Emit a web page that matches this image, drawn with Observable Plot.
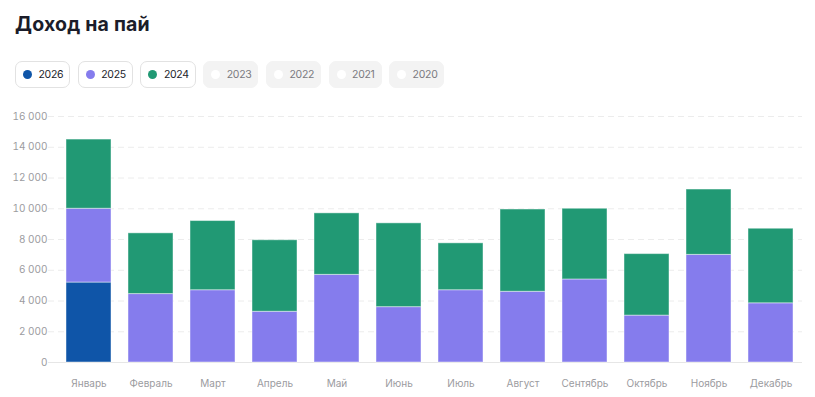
<!DOCTYPE html>
<html>
<head>
<meta charset="utf-8">
<script src="https://cdn.jsdelivr.net/npm/d3@7"></script>
<script src="https://cdn.jsdelivr.net/npm/@observablehq/plot@0.6"></script>
<style>
  html, body { margin: 0; padding: 0; background: #fff; width: 815px; height: 397px; overflow: hidden; font-family: Inter, "Noto Sans", sans-serif; }
  #title { position: absolute; left: 15px; top: 12px; font-size: 19.5px; font-weight: 700; color: #1b1d2a; letter-spacing: 0.2px; }
  #legend { position: absolute; left: 15px; top: 61px; display: flex; gap: 7.5px; }
  .pill { box-sizing: border-box; height: 27px; display: flex; align-items: center; padding: 0 6px 0 7px; border-radius: 7px; font-size: 10.5px; letter-spacing: -0.3px; }
  .pill.on { border: 1px solid #e2e2e2; background: #fff; color: #1b1d2a; }
  .pill.off { border: 1px solid #f3f3f3; background: #f3f3f3; color: #7a7a80; }
  .dot { width: 9px; height: 9px; border-radius: 50%; margin-right: 6.5px; }
  #chart { position: absolute; left: 0; top: 100px; }
</style>
</head>
<body>
<div id="title">Доход на пай</div>
<div id="legend"></div>
<div id="chart"></div>
<script>
const months = ["Январь","Февраль","Март","Апрель","Май","Июнь","Июль","Август","Сентябрь","Октябрь","Ноябрь","Декабрь"];
const years = ["2026","2025","2024","2023","2022","2021","2020"];
const activeYears = ["2026","2025","2024"];
const yearColors = ["#0f55a8","#857ced","#219974"];
const v2026 = [5200, 0, 0, 0, 0, 0, 0, 0, 0, 0, 0, 0];
const v2025 = [4800, 4450, 4700, 3300, 5700, 3600, 4700, 4600, 5400, 3050, 7000, 3850];
const v2024 = [4500, 3950, 4500, 4650, 4000, 5450, 3050, 5350, 4600, 4000, 4250, 4850];
const yTicks = [0, 2000, 4000, 6000, 8000, 10000, 12000, 14000, 16000];

// legend
const legend = document.getElementById("legend");
years.forEach(y => {
  const i = activeYears.indexOf(y);
  const pill = document.createElement("div");
  pill.className = "pill " + (i >= 0 ? "on" : "off");
  const dot = document.createElement("span");
  dot.className = "dot";
  dot.style.background = i >= 0 ? yearColors[i] : "#ffffff";
  const t = document.createElement("span");
  t.textContent = y;
  pill.appendChild(dot); pill.appendChild(t);
  legend.appendChild(pill);
});

const series = {"2026": v2026, "2025": v2025, "2024": v2024};
const data = [];
activeYears.forEach(y => {
  months.forEach((m, i) => {
    const v = series[y][i];
    if (v > 0) data.push({month: m, year: y, value: v});
  });
});

const fmt = d => d3.format(",")(d).replace(/,/g, " ");

const chart = Plot.plot({
  width: 815,
  height: 297,
  marginLeft: 56,
  marginRight: 13,
  marginTop: 16,
  marginBottom: 35,
  style: { fontFamily: "Inter, 'Noto Sans', sans-serif", fontSize: "10px", color: "#9b9ba0", background: "transparent" },
  x: { domain: months, paddingInner: 0.28, paddingOuter: 0.14, label: null, tickSize: 0, tickPadding: 17 },
  y: { domain: [0, 16000], ticks: yTicks, tickFormat: fmt, label: null, tickSize: 0, tickPadding: 9 },
  color: { domain: activeYears, range: yearColors },
  marks: [
    Plot.ruleY(yTicks.filter(d => d > 0), { stroke: "#ececec", strokeDasharray: "6,4", strokeWidth: 1, insetLeft: -8 }),
    Plot.ruleY([0], { stroke: "#e6e6e6", strokeWidth: 1, insetLeft: -8 }),
    Plot.barY(data, Plot.stackY({ order: activeYears, x: "month", y: "value", fill: "year", stroke: "white", strokeOpacity: 0.45, strokeWidth: 1 }))
  ]
});
document.getElementById("chart").appendChild(chart);
</script>
</body>
</html>
